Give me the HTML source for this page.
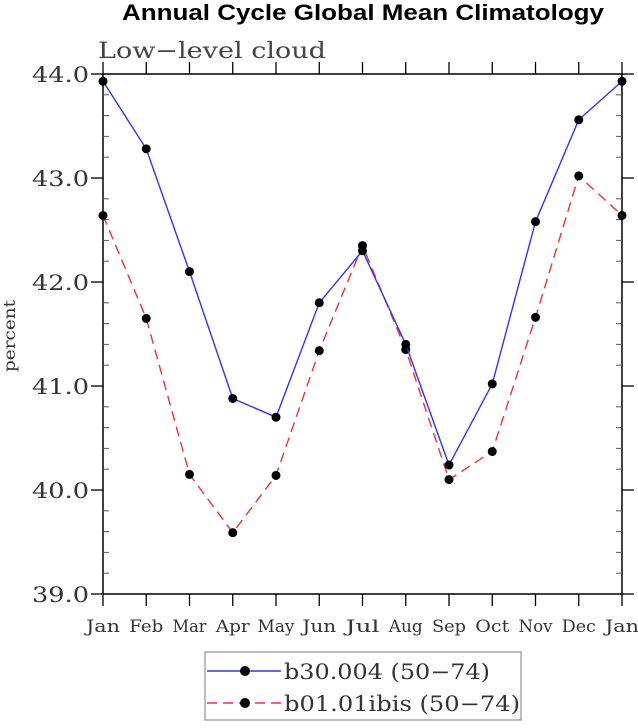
<!DOCTYPE html>
<html><head><meta charset="utf-8"><style>
body{margin:0;background:#fff}
svg text{font-family:"DejaVu Serif","Liberation Serif",serif;fill:#333}
</style></head><body>
<svg id="c" width="638" height="723" xmlns="http://www.w3.org/2000/svg">
<text x="122" y="20" textLength="482" lengthAdjust="spacingAndGlyphs" style="font-family:'Liberation Sans',sans-serif;font-weight:bold;font-size:22px;fill:#000">Annual Cycle Global Mean Climatology</text>
<text x="98" y="58" textLength="228" lengthAdjust="spacingAndGlyphs" style="font-size:22px;fill:#444">Low−level cloud</text>
<text transform="translate(15,336) rotate(-90)" text-anchor="middle" textLength="72" lengthAdjust="spacingAndGlyphs" style="font-size:16px">percent</text>
<g id="ax"></g><g id="series"></g>
<g>
<rect x="205" y="652" width="316" height="68" fill="#fff" stroke="#999" stroke-width="1.3"/>
<g>
<line x1="207" y1="671" x2="281" y2="671" stroke="#3333ee" stroke-width="1.4"/><circle cx="245" cy="671" r="5" fill="#000"/>
<text x="284" y="679" textLength="206" lengthAdjust="spacingAndGlyphs" style="font-size:21px">b30.004 (50−74)</text></g>
<g>
<line x1="207" y1="703" x2="281" y2="703" stroke="#ee3333" stroke-width="1.4" stroke-dasharray="10,6"/><circle cx="245" cy="703" r="5" fill="#000"/>
<text x="284" y="711" textLength="236" lengthAdjust="spacingAndGlyphs" style="font-size:21px">b01.01ibis (50−74)</text></g>
</g>
</svg>
<script>
const months=["Jan","Feb","Mar","Apr","May","Jun","Jul","Aug","Sep","Oct","Nov","Dec","Jan"];
const b30=[43.93,43.28,42.10,40.88,40.70,41.80,42.30,41.40,40.24,41.02,42.58,43.56,43.93];
const b01=[42.64,41.65,40.15,39.59,40.14,41.34,42.35,41.35,40.10,40.37,41.66,43.02,42.64];
const yTicks=[39,40,41,42,43,44];
const NS="http://www.w3.org/2000/svg";
const X0=103,X1=622,Y0=594,Y1=74,YMIN=39,YMAX=44;
const xs=i=>X0+(X1-X0)*i/(months.length-1);
const ys=v=>Y0-(v-YMIN)/(YMAX-YMIN)*(Y0-Y1);
function mk(t,a,p){const e=document.createElementNS(NS,t);for(const k in a)e.setAttribute(k,a[k]);p.appendChild(e);return e;}
const ax=document.getElementById('ax');
const frame=mk('rect',{x:X0,y:Y1,width:X1-X0,height:Y0-Y1,fill:'none',stroke:'#000','stroke-width':1.5},ax);


months.forEach((m,i)=>{
 const x=xs(i);
 mk('line',{x1:x,y1:Y0,x2:x,y2:Y0+12,stroke:'#000','stroke-width':1.3},ax);
 mk('line',{x1:x,y1:Y1,x2:x,y2:Y1-12,stroke:'#000','stroke-width':1.3},ax);
 const t=mk('text',{x:x,y:Y0+38,'text-anchor':'middle','font-size':17,textLength:m==="May"?37:34,lengthAdjust:'spacingAndGlyphs'},ax);
 t.textContent=m;
 
 
});
for(let v=YMIN;v<=YMAX+1e-9;v+=0.2){
 const y=ys(v);const major=Math.abs(v-Math.round(v))<1e-6;
 if(major){mk('line',{x1:X0-12,y1:y,x2:X0,y2:y,stroke:'#000','stroke-width':1.3},ax);
  mk('line',{x1:X1,y1:y,x2:X1+12,y2:y,stroke:'#000','stroke-width':1.3},ax);}
 else{mk('line',{x1:X0,y1:y,x2:X0+6,y2:y,stroke:'#555','stroke-width':1},ax);
  mk('line',{x1:X1-6,y1:y,x2:X1,y2:y,stroke:'#555','stroke-width':1},ax);}
}
yTicks.forEach(v=>{
 const t=mk('text',{x:X0-14,y:ys(v)+8,'text-anchor':'end','font-size':21,textLength:57,lengthAdjust:'spacingAndGlyphs'},ax);
 t.textContent=v.toFixed(1);
 
 
});
const sg=document.getElementById('series');
function draw(data,color,dash,name){
 const g=mk('g',{},sg);
 
 
 const a={points:data.map((v,i)=>xs(i)+','+ys(v)).join(' '),fill:'none',stroke:color,'stroke-width':1.4};
 if(dash)a['stroke-dasharray']=dash;
 mk('polyline',a,g);
 data.forEach((v,i)=>{const c=mk('circle',{cx:xs(i),cy:ys(v),r:4.5,fill:'#000'},g);
  
  });
}
draw(b01,'#ee3333','10,6','series-b01');
draw(b30,'#3333ee',null,'series-b30');
</script>
</body></html>
